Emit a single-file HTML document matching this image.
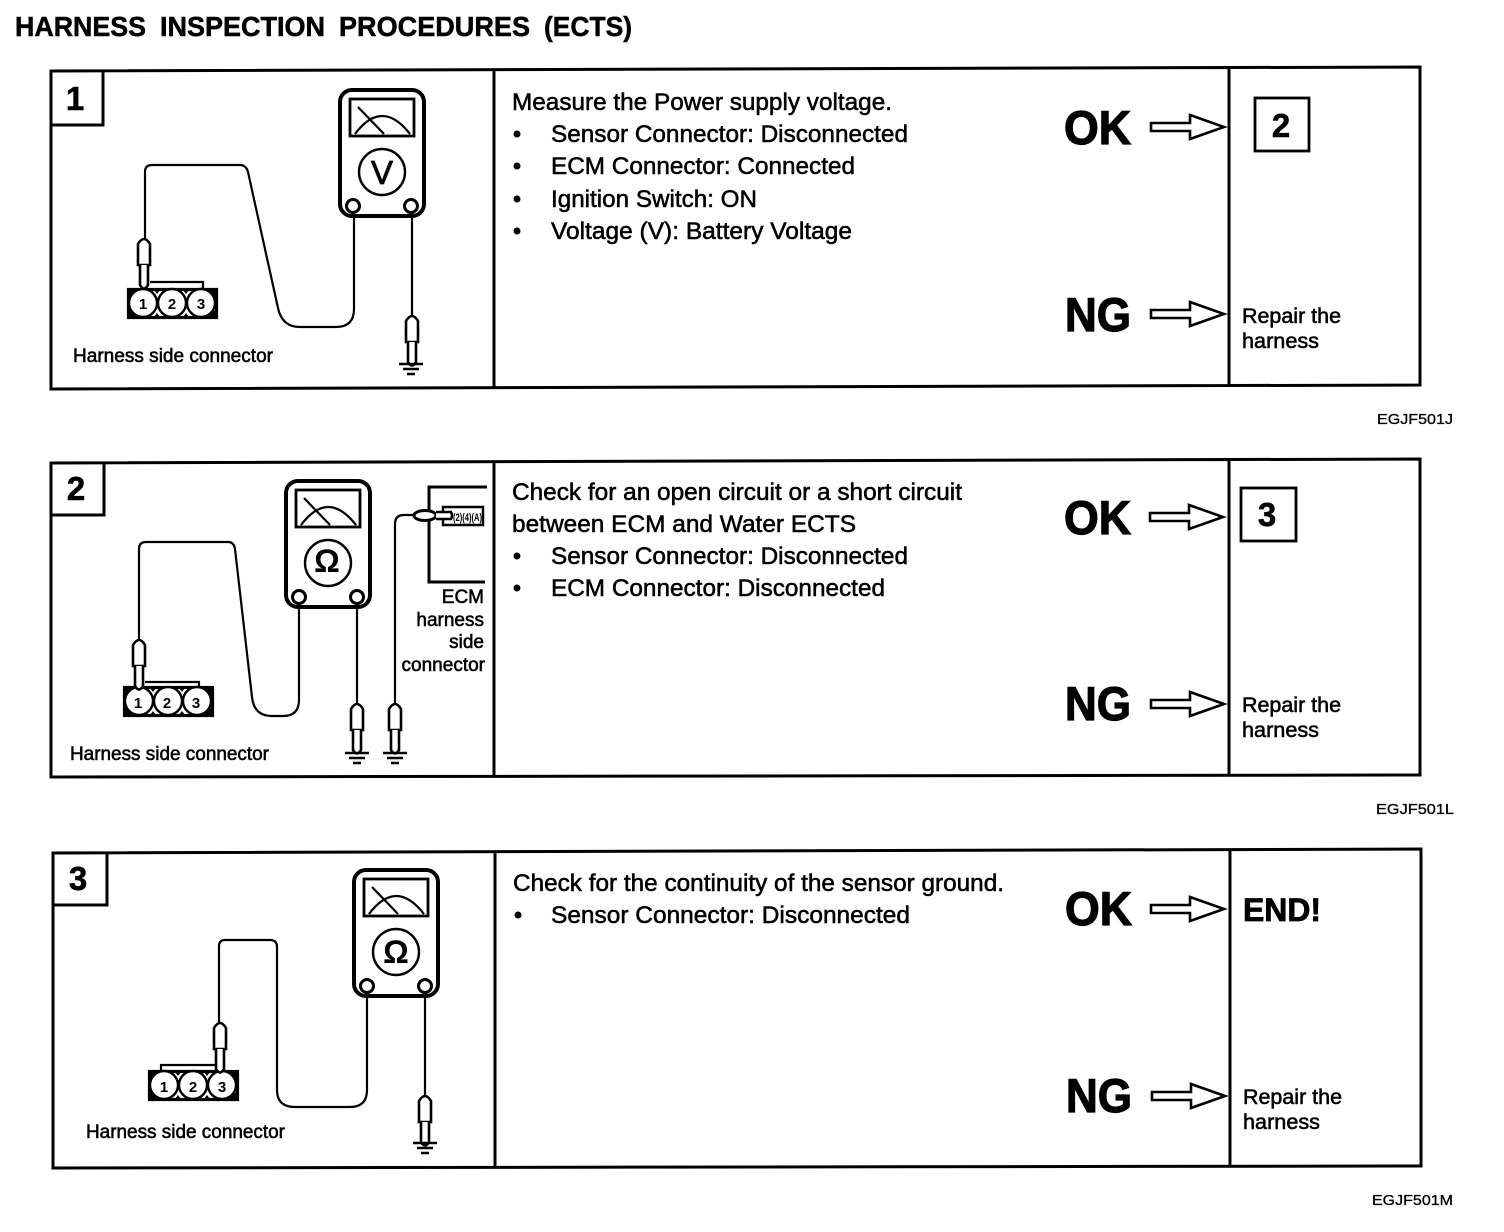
<!DOCTYPE html>
<html><head><meta charset="utf-8"><style>
html,body{margin:0;padding:0;background:#fff}
svg{display:block}
text{font-family:"Liberation Sans",Arial,sans-serif;fill:#000;stroke:#000;stroke-width:.55}
.b{font-size:24px}.h{font-size:19px}.r{font-size:21px}
.big{font-size:47px;font-weight:bold;stroke-width:1.2}
.num{font-size:33px;font-weight:bold;text-anchor:middle;stroke-width:.6}
.c{font-size:15px;text-anchor:middle;font-weight:bold;stroke:none}
.code{font-size:15px;stroke-width:.3}
.g{font-size:32px;text-anchor:middle;font-weight:bold;stroke:none}
.tt{font-size:28px;font-weight:bold;stroke-width:.5}
.l{fill:none;stroke:#000;stroke-width:2.2}
.t{fill:none;stroke:#000;stroke-width:3}
</style></head><body>
<svg width="1504" height="1232" viewBox="0 0 1504 1232" xmlns="http://www.w3.org/2000/svg">
<rect width="1504" height="1232" fill="#fff"/>
<defs>
<g id="arrow"><path d="M0,-4 H39 V-12 L73,0 L39,12 V4 H0 Z" fill="#fff" stroke="#000" stroke-width="2.6"/></g>
<g id="meter">
<rect x="2" y="2" width="84" height="126" rx="12" fill="#fff" stroke="#000" stroke-width="4"/>
<rect x="12" y="11" width="64" height="37" fill="none" stroke="#000" stroke-width="2.8"/>
<path d="M17,46 Q44,10 72,46" class="l"/><path d="M20,19 L46,46" class="l"/>
<circle cx="44" cy="84" r="23" fill="#fff" stroke="#000" stroke-width="2.4"/>
<circle cx="15" cy="118" r="6.500" fill="#fff" stroke="#000" stroke-width="3"/>
<circle cx="73" cy="118" r="6.500" fill="#fff" stroke="#000" stroke-width="3"/>
</g>
<g id="probe">
<path d="M-6,26 V5 Q0,-5 6,5 V26 Z" fill="#fff" stroke="#000" stroke-width="2.6"/>
<path d="M-4,26 V46 Q0,53 4,46 V26" fill="#fff" stroke="#000" stroke-width="2.6"/>
</g>
<g id="gnd"><path d="M-12,0 H12 M-8,5 H8 M-4,10 H4" fill="none" stroke="#000" stroke-width="2.4"/></g>
<g id="conn">
<rect x="1.500" y="1.500" width="88" height="28" fill="#fff" stroke="#000" stroke-width="3.200"/>
<path d="M2,2 L10,2 L2,10 Z M89,2 L81,2 L89,10 Z M2,29 L10,29 L2,21 Z M89,29 L81,29 L89,21 Z M27,2 H33 L30,6 Z M56,2 H62 L59,6 Z M27,29 H33 L30,25 Z M56,29 H62 L59,25 Z" fill="#000"/>
<circle cx="16" cy="15" r="14" fill="#fff" stroke="#000" stroke-width="2.400"/>
<circle cx="45" cy="15" r="14" fill="#fff" stroke="#000" stroke-width="2.400"/>
<circle cx="74" cy="15" r="14" fill="#fff" stroke="#000" stroke-width="2.400"/>
</g>
</defs>

<text class="tt" x="15" y="36" textLength="131" lengthAdjust="spacingAndGlyphs">HARNESS</text>
<text class="tt" x="160" y="36" textLength="165" lengthAdjust="spacingAndGlyphs">INSPECTION</text>
<text class="tt" x="339" y="36" textLength="191" lengthAdjust="spacingAndGlyphs">PROCEDURES</text>
<text class="tt" x="544" y="36" textLength="88" lengthAdjust="spacingAndGlyphs">(ECTS)</text>

<!-- Panel 1 -->
<path d="M51,71 L1420,67 V385 L51,389 Z M494,70 V388 M1229,68 V385" fill="none" stroke="#000" stroke-width="3"/>
<path d="M51,125 H103 V71" class="t"/>
<text class="num" x="75" y="110">1</text>
<use href="#meter" x="338" y="88"/>
<text x="382" y="184" font-size="33" text-anchor="middle" style="stroke-width:.8">V</text>
<path class="l" d="M145,240 V172 Q145,165 152,165 H240 Q246,165 248,172 L278,308 Q282,327 300,327 H336 Q354,327 354,309 V218"/>
<path class="l" d="M412,218 V316"/>
<path class="l" d="M150,282 H203 V288"/>
<use href="#conn" x="127" y="288"/>
<use href="#probe" x="144" y="239"/>
<use href="#probe" x="412" y="316"/>
<use href="#gnd" x="411" y="364"/>
<text class="c" x="143" y="309">1</text><text class="c" x="172" y="309">2</text><text class="c" x="201" y="309">3</text>
<text class="h" x="73" y="362" textLength="200" lengthAdjust="spacingAndGlyphs">Harness side connector</text>
<text class="b" x="512" y="110" textLength="380" lengthAdjust="spacingAndGlyphs">Measure the Power supply voltage.</text>
<circle cx="517" cy="134" r="3.500"/><text class="b" x="551" y="142" textLength="357" lengthAdjust="spacingAndGlyphs">Sensor Connector: Disconnected</text>
<circle cx="517" cy="166" r="3.500"/><text class="b" x="551" y="174" textLength="304" lengthAdjust="spacingAndGlyphs">ECM Connector: Connected</text>
<circle cx="517" cy="199" r="3.500"/><text class="b" x="551" y="207" textLength="206" lengthAdjust="spacingAndGlyphs">Ignition Switch: ON</text>
<circle cx="517" cy="231" r="3.500"/><text class="b" x="551" y="239" textLength="301" lengthAdjust="spacingAndGlyphs">Voltage (V): Battery Voltage</text>
<text class="big" x="1064" y="144" textLength="67" lengthAdjust="spacingAndGlyphs">OK</text>
<text class="big" x="1065" y="331" textLength="66" lengthAdjust="spacingAndGlyphs">NG</text>
<use href="#arrow" x="1151" y="127"/><use href="#arrow" x="1151" y="314"/>
<rect x="1255" y="98" width="54" height="53" fill="none" stroke="#000" stroke-width="2.800"/>
<text class="num" x="1281" y="137">2</text>
<text class="r" x="1242" y="323" textLength="99" lengthAdjust="spacingAndGlyphs">Repair the</text>
<text class="r" x="1242" y="348" textLength="77" lengthAdjust="spacingAndGlyphs">harness</text>
<text class="code" x="1377" y="424" textLength="76" lengthAdjust="spacingAndGlyphs">EGJF501J</text>

<!-- Panel 2 -->
<path d="M51,463 L1420,459 V775 L51,777 Z M494,462 V776 M1229,460 V775" fill="none" stroke="#000" stroke-width="3"/>
<path d="M51,515 H104 V463" class="t"/>
<text class="num" x="76" y="500">2</text>
<use href="#meter" x="284" y="479"/>
<text class="g" x="327" y="572">Ω</text>
<path class="l" d="M139,640 V549 Q139,542 146,542 H228 Q234,542 235,549 L252,697 Q254,716 272,716 H283 Q299,716 299,700 V608"/>
<path class="l" d="M357,608 V704 M395,704 V524 Q395,515 404,515 H413"/>
<path class="l" d="M145,682 H199 V686"/>
<use href="#conn" x="123" y="686"/>
<use href="#probe" x="139" y="640"/>
<use href="#probe" x="357" y="704"/>
<use href="#probe" x="395" y="704"/>
<use href="#gnd" x="357" y="753"/><use href="#gnd" x="395" y="753"/>
<text class="c" x="138" y="708">1</text><text class="c" x="167" y="708">2</text><text class="c" x="196" y="708">3</text>
<path d="M487,487 H429 V582 H485" class="t" />
<rect x="443" y="507" width="40" height="18" fill="#fff" stroke="#000" stroke-width="2.500"/>
<text x="453" y="521" font-size="11" font-weight="bold" style="stroke:none" textLength="29" lengthAdjust="spacingAndGlyphs">(2)(4)(A)</text>
<ellipse cx="425" cy="515.500" rx="11" ry="5" fill="#fff" stroke="#000" stroke-width="3"/>
<path d="M436,512 H451 Q453,515.500 451,519 H436" fill="#fff" stroke="#000" stroke-width="2.500"/>
<text class="h" x="484" y="603" text-anchor="end">ECM</text>
<text class="h" x="484" y="626" text-anchor="end">harness</text>
<text class="h" x="484" y="648" text-anchor="end">side</text>
<text class="h" x="485" y="671" text-anchor="end">connector</text>
<text class="h" x="70" y="760" textLength="199" lengthAdjust="spacingAndGlyphs">Harness side connector</text>
<text class="b" x="512" y="500" textLength="450" lengthAdjust="spacingAndGlyphs">Check for an open circuit or a short circuit</text>
<text class="b" x="512" y="532" textLength="344" lengthAdjust="spacingAndGlyphs">between ECM and Water ECTS</text>
<circle cx="517" cy="556" r="3.500"/><text class="b" x="551" y="564" textLength="357" lengthAdjust="spacingAndGlyphs">Sensor Connector: Disconnected</text>
<circle cx="517" cy="588" r="3.500"/><text class="b" x="551" y="596" textLength="334" lengthAdjust="spacingAndGlyphs">ECM Connector: Disconnected</text>
<text class="big" x="1064" y="534" textLength="67" lengthAdjust="spacingAndGlyphs">OK</text>
<text class="big" x="1065" y="720" textLength="66" lengthAdjust="spacingAndGlyphs">NG</text>
<use href="#arrow" x="1150" y="517"/><use href="#arrow" x="1151" y="704"/>
<rect x="1241" y="488" width="55" height="53" fill="none" stroke="#000" stroke-width="2.800"/>
<text class="num" x="1267" y="526">3</text>
<text class="r" x="1242" y="712" textLength="99" lengthAdjust="spacingAndGlyphs">Repair the</text>
<text class="r" x="1242" y="737" textLength="77" lengthAdjust="spacingAndGlyphs">harness</text>
<text class="code" x="1376" y="814" textLength="78" lengthAdjust="spacingAndGlyphs">EGJF501L</text>

<!-- Panel 3 -->
<path d="M53,853 L1421,849 V1166 L53,1168 Z M495,852 V1167 M1230,850 V1166" fill="none" stroke="#000" stroke-width="3"/>
<path d="M53,905 H107 V853" class="t"/>
<text class="num" x="78" y="890">3</text>
<use href="#meter" x="352" y="868"/>
<text class="g" x="396" y="963">Ω</text>
<path class="l" d="M219,1023 V946 Q219,940 225,940 H270 Q277,940 277,947 V1090 Q277,1107 295,1107 H350 Q367,1107 367,1090 V998"/>
<path class="l" d="M425,998 V1097"/>
<path class="l" d="M161,1070 V1065 H217"/>
<use href="#conn" x="148" y="1070"/>
<use href="#probe" x="220" y="1023"/>
<use href="#probe" x="425" y="1096"/>
<use href="#gnd" x="425" y="1143"/>
<text class="c" x="164" y="1092">1</text><text class="c" x="193" y="1092">2</text><text class="c" x="222" y="1092">3</text>
<text class="h" x="86" y="1138" textLength="199" lengthAdjust="spacingAndGlyphs">Harness side connector</text>
<text class="b" x="513" y="891" textLength="491" lengthAdjust="spacingAndGlyphs">Check for the continuity of the sensor ground.</text>
<circle cx="518" cy="915" r="3.500"/><text class="b" x="551" y="923" textLength="359" lengthAdjust="spacingAndGlyphs">Sensor Connector: Disconnected</text>
<text class="big" x="1065" y="925" textLength="67" lengthAdjust="spacingAndGlyphs">OK</text>
<text class="big" x="1066" y="1112" textLength="66" lengthAdjust="spacingAndGlyphs">NG</text>
<use href="#arrow" x="1151" y="909"/><use href="#arrow" x="1152" y="1096"/>
<text x="1243" y="921" font-size="32" font-weight="bold" textLength="78" lengthAdjust="spacingAndGlyphs" style="stroke-width:.8">END!</text>
<text class="r" x="1243" y="1104" textLength="99" lengthAdjust="spacingAndGlyphs">Repair the</text>
<text class="r" x="1243" y="1129" textLength="77" lengthAdjust="spacingAndGlyphs">harness</text>
<text class="code" x="1372" y="1205" textLength="81" lengthAdjust="spacingAndGlyphs">EGJF501M</text>
</svg>
</body></html>
